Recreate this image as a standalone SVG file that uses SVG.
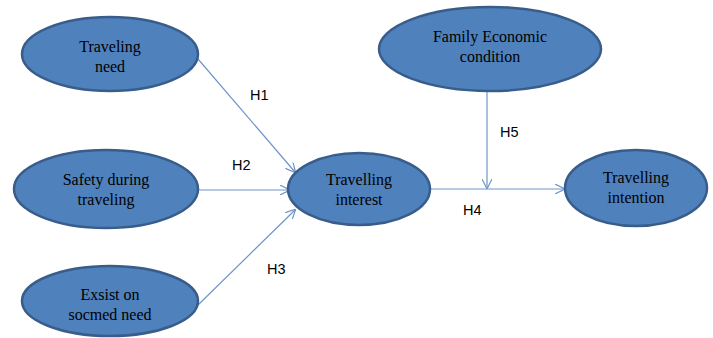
<svg xmlns="http://www.w3.org/2000/svg" width="713" height="338" viewBox="0 0 713 338">
<defs>
<style>
.node{fill:#4F81BD;stroke:#385D8A;stroke-width:2.5}
.t{font-family:"Liberation Serif","Times New Roman",serif;font-size:16px;fill:#000;text-anchor:middle}
.h{font-family:"Liberation Sans",Arial,sans-serif;font-size:14.5px;fill:#000}
.c{stroke:#6E95C8;stroke-width:1.2;fill:none;marker-end:url(#arr)}
</style>
<marker id="arr" viewBox="0 0 10 10" refX="9" refY="5" markerWidth="10" markerHeight="10" markerUnits="userSpaceOnUse" orient="auto">
<path d="M0,0 L10,5 L0,10" fill="none" stroke="#6E95C8" stroke-width="1.2"/>
</marker>
</defs>
<rect width="713" height="338" fill="#fff"/>
<g id="connectors">
<line class="c" x1="198" y1="59" x2="295" y2="172"/>
<line class="c" x1="198" y1="190" x2="289" y2="190"/>
<line class="c" x1="198" y1="305" x2="295" y2="210"/>
<line class="c" x1="430" y1="189" x2="564" y2="189"/>
<line class="c" x1="487" y1="91" x2="487" y2="188"/>
<text class="h" x="250" y="100">H1</text>
<text class="h" x="232" y="170">H2</text>
<text class="h" x="267" y="274">H3</text>
<text class="h" x="463" y="215">H4</text>
<text class="h" x="500" y="137">H5</text>
</g>
<g id="n1"><ellipse class="node" cx="110" cy="54" rx="88" ry="37"/><text class="t" x="110" y="52">Traveling</text><text class="t" x="110" y="72">need</text></g>
<g id="n2"><ellipse class="node" cx="106" cy="189" rx="92" ry="39"/><text class="t" x="106" y="185">Safety during</text><text class="t" x="106" y="205">traveling</text></g>
<g id="n3"><ellipse class="node" cx="110" cy="301" rx="88" ry="35"/><text class="t" x="110" y="300">Exsist on</text><text class="t" x="110" y="320">socmed need</text></g>
<g id="n4"><ellipse class="node" cx="359" cy="189" rx="71" ry="36"/><text class="t" x="359" y="185">Travelling</text><text class="t" x="359" y="205">interest</text></g>
<g id="n5"><ellipse class="node" cx="490" cy="49" rx="111" ry="42"/><text class="t" x="490" y="42">Family Economic</text><text class="t" x="490" y="62">condition</text></g>
<g id="n6"><ellipse class="node" cx="636" cy="188" rx="71" ry="38"/><text class="t" x="636" y="183">Travelling</text><text class="t" x="636" y="203">intention</text></g>
</svg>
